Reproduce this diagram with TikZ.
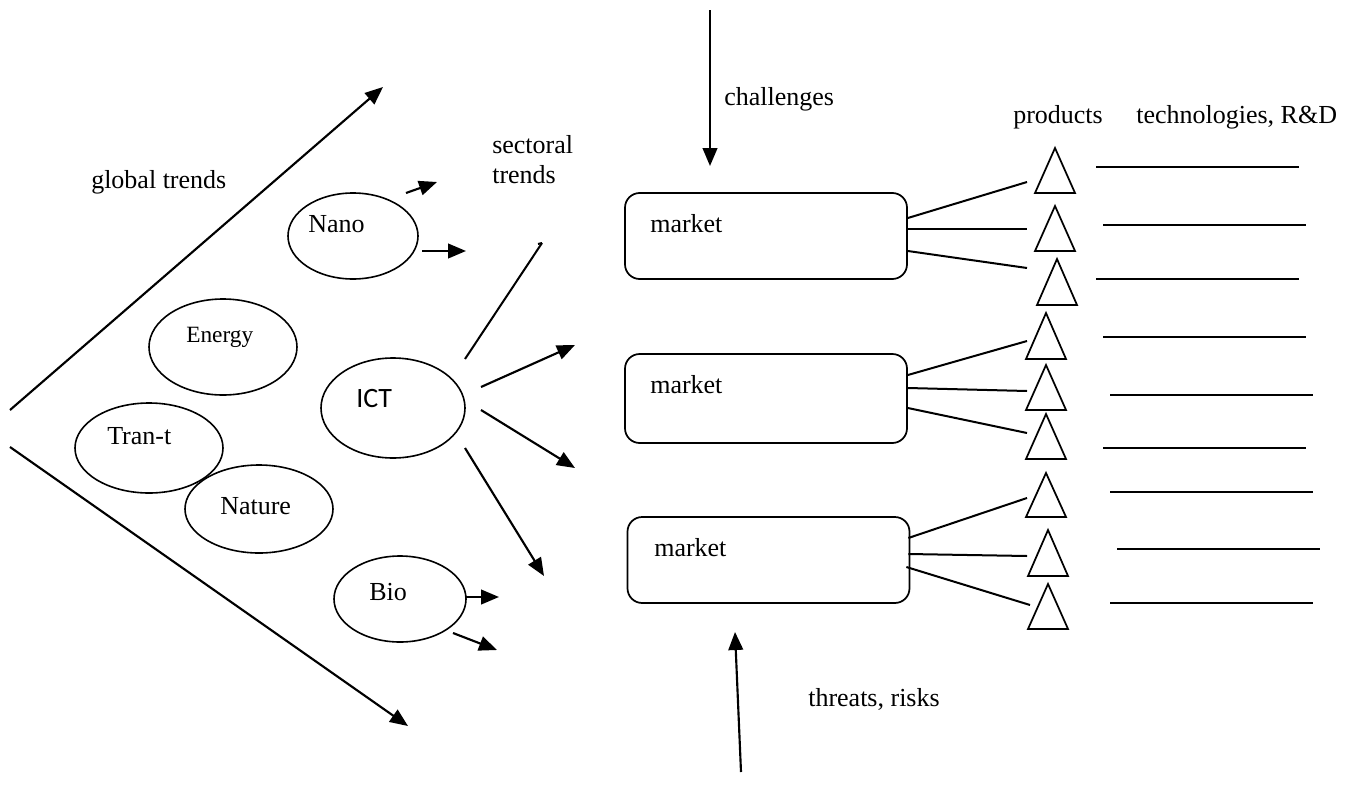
\documentclass[tikz,border=0pt]{standalone}
\usepackage{fontspec}
\setmainfont{Liberation Serif}
\newfontfamily\calibfont{Carlito}
\usetikzlibrary{arrows.meta,shapes.geometric}
\begin{document}
\begin{tikzpicture}[x=0.75pt,y=-0.75pt,
  ln/.style={line width=1.5pt},
  arr/.style={line width=1.6pt,-{Triangle[length=13.5pt,width=11pt]}},
  oval/.style={ellipse,draw,line width=1.2pt,inner sep=0},
  mbox/.style={draw,line width=1.3pt,rounded corners=11pt,minimum width=211.5pt,inner sep=0},
  txt/.style={anchor=base west,inner sep=0,font=\fontsize{19.5}{23}\selectfont},
  tri/.style={line width=1.3pt,line join=miter}]
\fill[white] (0,0) rectangle (1356,803);
\useasboundingbox (0,0) rectangle (1356,803);

% global trends
\coordinate (gu0) at (10,410);
\coordinate (gu1) at (383,87);
\coordinate (gl0) at (10,447);
\coordinate (gl1) at (408,726);
\draw[arr] (gu0) -- (gu1);
\draw[arr] (gl0) -- (gl1);
\node[txt] (tglobal) at (91,188) {global trends};

% ellipses
\node[oval,minimum width=97.5pt,minimum height=64.5pt] (nano) at (353,236) {};
\node[oval,minimum width=111pt,minimum height=72pt] (energy) at (223,347) {};
\node[oval,minimum width=108pt,minimum height=75pt] (ict) at (393,408) {};
\node[oval,minimum width=111pt,minimum height=67.5pt] (trant) at (149,448) {};
\node[oval,minimum width=111pt,minimum height=66pt] (nature) at (259,509) {};
\node[oval,minimum width=99pt,minimum height=64.5pt] (bio) at (400,599) {};

\node[txt] (tnano) at (308,232) {Nano};
\node[txt,font=\fontsize{17.5}{21}\selectfont] (tenergy) at (186,342) {Energy};
\node[txt,font=\calibfont\fontsize{21}{25}\selectfont] (tict) at (356,407) {ICT};
\node[txt] (ttrant) at (107,444) {Tran-t};
\node[txt] (tnature) at (220,514) {Nature};
\node[txt] (tbio) at (369,600) {Bio};

% arrows from Nano
\coordinate (na1) at (406,193);
\coordinate (na1e) at (437,182);
\coordinate (na2) at (422,251);
\coordinate (na2e) at (466,251);
\draw[arr] (na1) -- (na1e);
\draw[arr] (na2) -- (na2e);

% arrows from ICT
\coordinate (ic0) at (465,359);
\coordinate (ic0e) at (542,243);
\coordinate (ic1) at (481,387);
\coordinate (ic1e) at (575,345);
\coordinate (ic2) at (481,410);
\coordinate (ic2e) at (575,468);
\coordinate (ic3) at (465,448);
\coordinate (ic3e) at (544,576);
\draw[ln] (ic0) -- (ic0e);
\draw[line width=1.5pt] (ic0e) -- ++(-4,1);
\draw[arr] (ic1) -- (ic1e);
\draw[arr] (ic2) -- (ic2e);
\draw[arr] (ic3) -- (ic3e);

% arrows from Bio
\coordinate (bi1) at (465,597);
\coordinate (bi1e) at (499,597);
\coordinate (bi2) at (453,633);
\coordinate (bi2e) at (497,650);
\draw[arr] (bi1) -- (bi1e);
\draw[arr] (bi2) -- (bi2e);

% sectoral trends
\node[txt] (tsect1) at (492,153) {sectoral};
\node[txt] (tsect2) at (492,183) {trends};

% challenges / threats
\coordinate (ch0) at (710,10);
\coordinate (ch1) at (710,166);
\draw[arr] (ch0) -- (ch1);
\node[txt] (tchal) at (724,105) {challenges};
\coordinate (th0) at (741,772);
\coordinate (th1) at (735,632);
\draw[arr] (th0) -- (th1);
\node[txt] (tthreat) at (808,706) {threats, risks};

% markets
\node[mbox,minimum height=64.5pt] (m1) at (766,236) {};
\node[mbox,minimum height=66.75pt] (m2) at (766,398.5) {};
\node[mbox,minimum height=64.5pt] (m3) at (768.5,560) {};
\node[txt] (tm1) at (650,232) {market};
\node[txt] (tm2) at (650,393) {market};
\node[txt] (tm3) at (654,556) {market};

% products / technologies headings
\node[txt] (tprod) at (1013,123) {products};
\node[txt] (ttech) at (1136,123) {technologies, R\&D};

% triangles
\foreach \i/\ax/\ay/\by in {1/1055/148/193,2/1055/206/251,3/1057/259/305,4/1046/313/359,5/1046/365/410,6/1046/414/459,7/1046/473/517,8/1048/530/576,9/1048/584/629}{
  \draw[tri] (\ax,\ay) -- (\ax+20,\by) -- (\ax-20,\by) -- cycle;
}
\coordinate (c1) at (1027,182);
\coordinate (c2) at (1027,229);
\coordinate (c3) at (1027,268);
\coordinate (c4) at (1027,341);
\coordinate (c5) at (1027,391);
\coordinate (c6) at (1027,433);
\coordinate (c7) at (1027,498);
\coordinate (c8) at (1027,556);
\coordinate (c9) at (1030,605);

\draw[ln] (m1.east) ++(0,-18) -- (c1);
\draw[ln] (m1.east) ++(0,-7) -- (c2);
\draw[ln] (m1.east) ++(0,15) -- (c3);
\draw[ln] (m2.east) ++(0,-23.5) -- (c4);
\draw[ln] (m2.east) ++(0,-10.5) -- (c5);
\draw[ln] (m2.east) ++(0,9.5) -- (c6);
\draw[ln] (m3.east) ++(-2,-22) -- (c7);
\draw[ln] (m3.east) ++(-2,-6) -- (c8);
\draw[ln] (m3.east) ++(-4,7) -- (c9);

% technology lines
\foreach \i/\xa/\xb/\yy in {1/1096/1299/167,2/1103/1306/225,3/1096/1299/279,4/1103/1306/337,5/1110/1313/395,6/1103/1306/448,7/1110/1313/492,8/1117/1320/549,9/1110/1313/603}{
  \coordinate (r\i a) at (\xa,\yy);
  \coordinate (r\i b) at (\xb,\yy);
  \draw[ln] (r\i a) -- (r\i b);
}
\end{tikzpicture}
\end{document}
